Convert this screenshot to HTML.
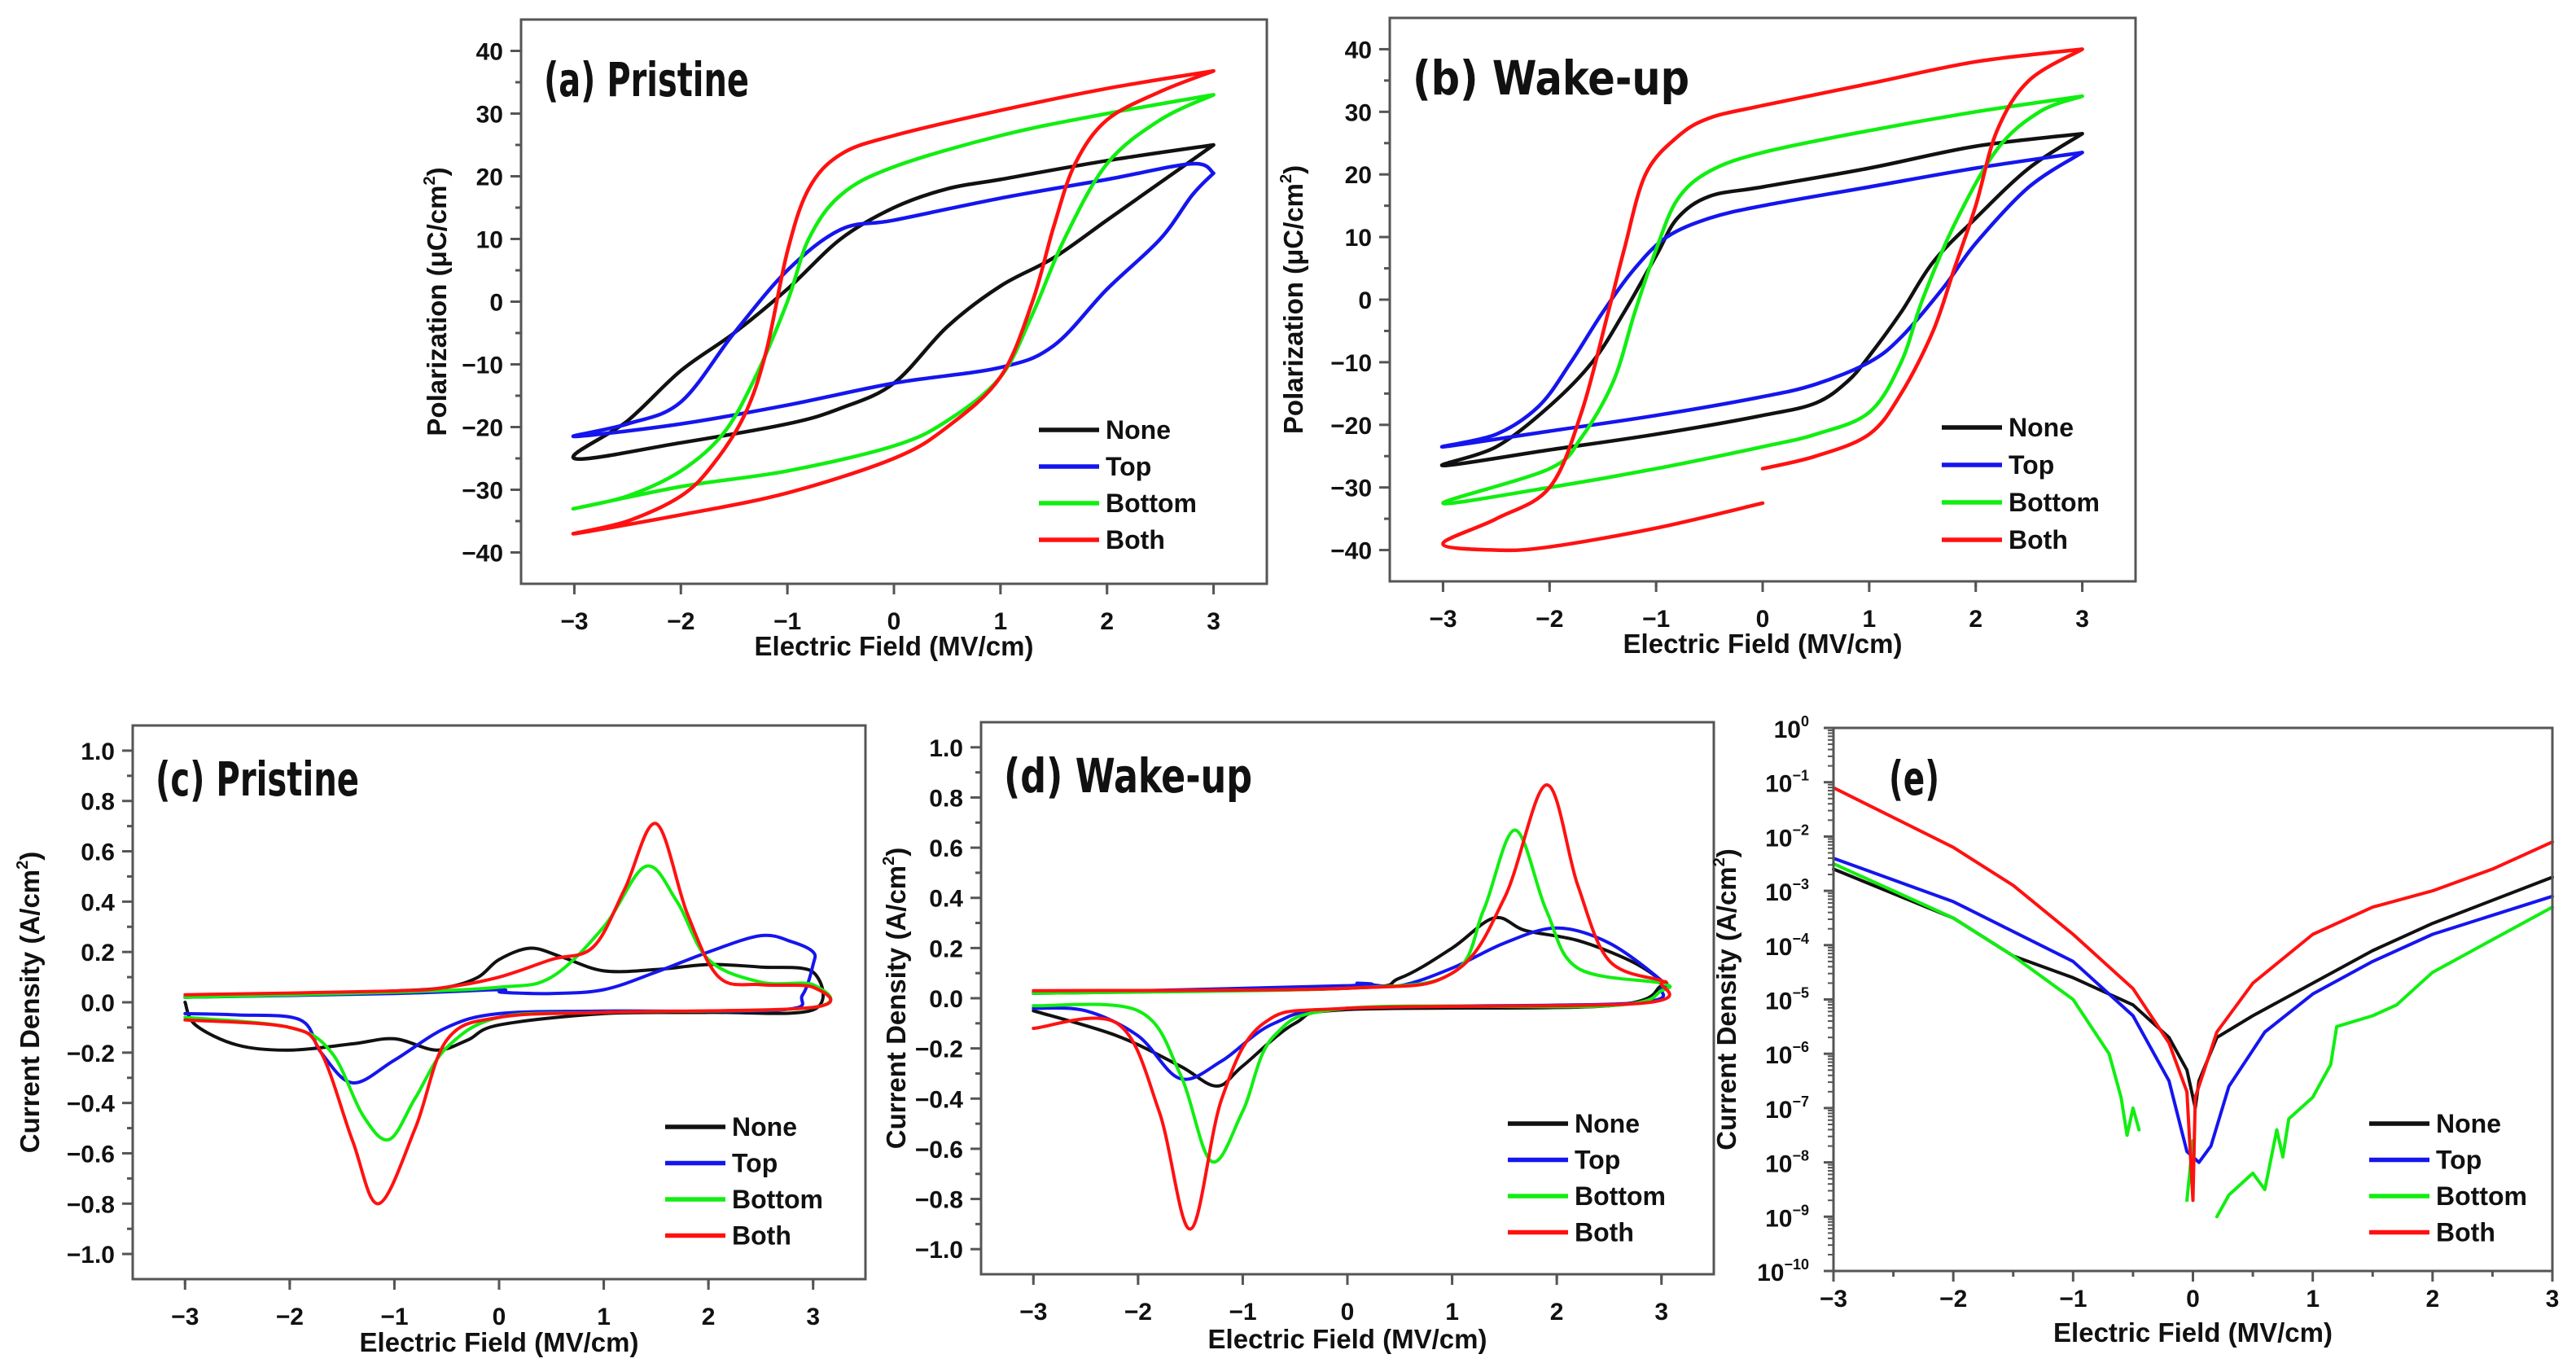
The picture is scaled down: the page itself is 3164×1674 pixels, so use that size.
<!DOCTYPE html>
<html><head><meta charset="utf-8">
<style>
html,body{margin:0;padding:0;background:#fff;}
svg{display:block;}
text{font-family:"Liberation Sans",Arial,sans-serif;font-weight:bold;fill:#111;}
.ttl{font-family:"Liberation Sans Narrow","DejaVu Sans Condensed","Liberation Sans",sans-serif;font-weight:600;}
</style></head>
<body>
<svg id="fig" width="3164" height="1674" viewBox="0 0 3164 1674" xmlns="http://www.w3.org/2000/svg"></svg>
<script>
// ---------- data (panel a: pristine P-E) ----------
const A_NONE_E=[3,2,1,0.5,0,-0.5,-1,-1.5,-2,-2.5,-3,-2,-1,-0.5,0,0.5,1,1.5,2,2.5,3];
const A_NONE_P=[25,22.5,19.5,18,15,10,2,-5,-11,-19,-25,-22.5,-19.5,-17,-13,-4,2.5,7,13,19,25];
const A_TOP_E=[3,2.8,2,1,0,-0.5,-1,-1.5,-2,-2.5,-3,-2,-1,0,1,1.5,2,2.5,2.8,3];
const A_TOP_P=[20.5,22,19.5,16.5,13,11.5,5,-5,-16,-19.5,-21.5,-19.5,-16.5,-13,-10.5,-7,2,10,17,20.5];
const A_BOT_E=[3,2,1,0,-0.5,-0.8,-1,-1.3,-1.6,-2,-2.5,-3,-2,-1,0,0.5,1,1.3,1.6,2,2.5,3];
const A_BOT_P=[33,30,26.5,21.5,17,10,0,-12,-21,-27,-31,-33,-29.5,-27,-23,-19,-12,-2,10,22,29,33];
const A_BOTH_E=[3,2,1,0,-0.5,-0.8,-1,-1.2,-1.4,-1.7,-2,-2.5,-3,-2,-1,0,0.5,1,1.3,1.5,1.7,2,2.5,3];
const A_BOTH_P=[36.8,34,30.5,26.5,23.5,18,8,-8,-18,-26,-31,-35,-37,-34,-30.5,-25,-20,-12,0,12,22,29,33.5,36.8];
// ---------- data (panel b: wake-up P-E) ----------
const B_NONE_E=[3,2,1,0,-0.5,-0.8,-1,-1.3,-1.6,-2,-2.5,-3,-2,-1,0,0.5,0.8,1,1.3,1.6,2,2.5,3];
const B_NONE_P=[26.5,24.5,21,18,16.5,13,7,-2,-10,-17,-23.5,-26.5,-24,-21.5,-18.5,-16.5,-13,-9,-2,6,13,21,26.5];
const B_TOP_E=[3,2,1,0,-0.5,-0.9,-1.2,-1.5,-1.8,-2.1,-2.5,-3,-2,-1,0,0.5,1,1.3,1.7,2,2.5,3];
const B_TOP_P=[23.5,21,18,15,13,10,5,-2,-10,-17,-21.5,-23.5,-21,-18.5,-15.5,-13.5,-10,-6,2,9,18,23.5];
const B_BOT_E=[3,2,1,0,-0.5,-0.8,-1,-1.2,-1.4,-1.7,-2,-3,-2,-1,0,0.5,1,1.3,1.5,1.8,2.2,2.6,3];
const B_BOT_P=[32.5,30,27,23.5,20.5,16,8,-2,-13,-22,-27,-32.5,-30,-27,-23.5,-21.5,-18,-10,0,12,24,30,32.5];
const B_BOTH_E=[3,2,1,0,-0.5,-0.8,-1.1,-1.3,-1.45,-1.7,-2,-2.5,-3,-2.5,-2,-1,0,NaN,0,0.5,1,1.3,1.6,1.8,2,2.2,2.5,3];
const B_BOTH_P=[40,38,34.5,31,29,26,20,8,-2,-18,-30,-35,-39,-40,-39.5,-36.5,-32.5,NaN,-27,-25,-21.5,-15,-5,5,15,27,35,40];
// ---------- data (panel c: pristine J-E) ----------
const C_NONE_E=[-3,-2,-1,-0.5,-0.2,0,0.3,0.6,1,1.5,2,2.5,3,3,2,1,0,-0.3,-0.6,-1,-1.4,-2,-2.5,-2.9,-3];
const C_NONE_J=[0.02,0.035,0.045,0.06,0.1,0.17,0.215,0.18,0.125,0.13,0.15,0.14,0.12,-0.03,-0.04,-0.045,-0.09,-0.15,-0.19,-0.145,-0.165,-0.19,-0.17,-0.09,0.0];
const C_TOP_E=[-3,-1,0,0.02,0.5,1,1.5,2,2.5,2.8,3,3,2.9,2.7,1,0,-0.5,-1,-1.4,-1.7,-1.9,-2.5,-3];
const C_TOP_J=[0.02,0.035,0.05,0.04,0.035,0.05,0.12,0.2,0.265,0.24,0.2,0.15,0.03,-0.03,-0.035,-0.045,-0.1,-0.23,-0.32,-0.2,-0.07,-0.05,-0.045];
const C_BOT_E=[-3,-1,0,0.5,1,1.4,1.7,2,2.5,3,3,1,0,-0.5,-0.8,-1.05,-1.3,-1.6,-2,-3];
const C_BOT_J=[0.02,0.04,0.06,0.1,0.3,0.54,0.4,0.17,0.08,0.07,-0.02,-0.04,-0.06,-0.18,-0.38,-0.545,-0.45,-0.2,-0.1,-0.06];
const C_BOTH_E=[-3,-1,-0.5,0,0.5,0.9,1.2,1.5,1.8,2.1,2.5,3,3,1,0,-0.5,-0.8,-1.15,-1.4,-1.7,-2,-3];
const C_BOTH_J=[0.03,0.045,0.06,0.1,0.17,0.22,0.45,0.71,0.35,0.1,0.07,0.06,-0.02,-0.04,-0.06,-0.15,-0.5,-0.8,-0.55,-0.2,-0.1,-0.07];
// ---------- data (panel d: wake-up J-E) ----------
const D_NONE_E=[-3,0,0.5,1,1.4,1.7,2.2,2.7,3,3,2.5,0,-0.5,-1,-1.25,-1.6,-2.2,-3];
const D_NONE_J=[0.02,0.04,0.08,0.2,0.32,0.27,0.23,0.15,0.07,0.05,-0.03,-0.045,-0.1,-0.27,-0.35,-0.27,-0.15,-0.05];
const D_TOP_E=[-3,0,0.1,0.5,1,1.5,2,2.5,3,3,2.7,0,-0.7,-1.2,-1.6,-2,-2.5,-3];
const D_TOP_J=[0.02,0.05,0.06,0.05,0.12,0.22,0.28,0.22,0.07,0.04,-0.02,-0.04,-0.1,-0.25,-0.32,-0.15,-0.05,-0.04];
const D_BOT_E=[-3,0,1,1.3,1.6,1.9,2.2,3,3,2.5,0,-0.7,-1,-1.3,-1.6,-2,-3];
const D_BOT_J=[0.02,0.04,0.1,0.35,0.67,0.35,0.12,0.06,0.03,-0.03,-0.04,-0.15,-0.45,-0.65,-0.3,-0.05,-0.03];
const D_BOTH_E=[-3,0,1,1.5,1.9,2.2,2.5,3,3,2.8,0,-0.8,-1.2,-1.5,-1.8,-2.2,-3];
const D_BOTH_J=[0.03,0.04,0.1,0.4,0.85,0.45,0.15,0.07,0.06,-0.02,-0.04,-0.1,-0.4,-0.92,-0.45,-0.1,-0.12];
// ---------- data (panel e: leakage, log10 J) ----------
const E_NONE_E=[-3,-2,-1.5,-1,-0.5,-0.2,-0.05,0.02,0.05,0.2,0.5,1,1.5,2,3];
const E_NONE_L=[-2.6,-3.5,-4.2,-4.6,-5.1,-5.7,-6.3,-7,-6.5,-5.7,-5.3,-4.7,-4.1,-3.6,-2.75];
const E_TOP_E=[-3,-2,-1,-0.5,-0.2,-0.05,0.05,0.15,0.3,0.6,1,1.5,2,3];
const E_TOP_L=[-2.4,-3.2,-4.3,-5.3,-6.5,-7.8,-8,-7.7,-6.6,-5.6,-4.9,-4.3,-3.8,-3.1];
const E_BOT_E=[-3,-2.5,-2,-1.5,-1,-0.7,-0.6,-0.55,-0.5,-0.45,NaN,-0.05,0,NaN,0.2,0.3,0.5,0.6,0.7,0.75,0.8,1,1.15,1.2,1.5,1.7,2,2.5,3];
const E_BOT_L=[-2.5,-3,-3.5,-4.2,-5,-6,-6.8,-7.5,-7,-7.4,NaN,-8.7,-7.6,NaN,-9,-8.6,-8.2,-8.5,-7.4,-7.9,-7.2,-6.8,-6.2,-5.5,-5.3,-5.1,-4.5,-3.9,-3.3];
const E_BOTH_E=[-3,-2,-1.5,-1,-0.5,-0.2,-0.05,0,0.02,0.2,0.5,1,1.5,2,2.5,3];
const E_BOTH_L=[-1.1,-2.2,-2.9,-3.8,-4.8,-5.8,-6.7,-8.7,-6.8,-5.6,-4.7,-3.8,-3.3,-3,-2.6,-2.1];
const LEGEND_LABELS=["None","Top","Bottom","Both"];
const COLORS=["#111111","#1515ee","#11ee11","#ff1111"];
const PE_TICKS=[-40,-30,-20,-10,0,10,20,30,40];
const JE_TICKS=[-1.0,-0.8,-0.6,-0.4,-0.2,0.0,0.2,0.4,0.6,0.8,1.0];
const LOG_TICKS=[0,-1,-2,-3,-4,-5,-6,-7,-8,-9,-10];
const X_TICKS=[-3,-2,-1,0,1,2,3];

const NS="http://www.w3.org/2000/svg";
const svg=document.getElementById('fig');
function el(tag,attrs,parent){const e=document.createElementNS(NS,tag);for(const k in attrs)e.setAttribute(k,attrs[k]);(parent||svg).appendChild(e);return e;}
function fmtNum(v,d){const s=Math.abs(v).toFixed(d);return (v<0?"\u2212":"")+s;}

function smoothPath(pts){
  let d="";let seg=[];
  const flush=()=>{
    if(seg.length<2){seg=[];return;}
    d+="M"+seg[0][0].toFixed(1)+","+seg[0][1].toFixed(1);
    for(let i=0;i<seg.length-1;i++){
      const p0=seg[Math.max(0,i-1)],p1=seg[i],p2=seg[i+1],p3=seg[Math.min(seg.length-1,i+2)];
      const c1=[p1[0]+(p2[0]-p0[0])/6,p1[1]+(p2[1]-p0[1])/6];
      const c2=[p2[0]-(p3[0]-p1[0])/6,p2[1]-(p3[1]-p1[1])/6];
      d+="C"+c1[0].toFixed(1)+","+c1[1].toFixed(1)+" "+c2[0].toFixed(1)+","+c2[1].toFixed(1)+" "+p2[0].toFixed(1)+","+p2[1].toFixed(1);
    }
    seg=[];
  };
  pts.forEach(p=>{if(isNaN(p[0])||isNaN(p[1]))flush();else seg.push(p);});
  flush();
  return d;
}

function panel(cfg){
  const g=el('g',{});
  
  
  const L=cfg.L,T=cfg.T,R=cfg.R,B=cfg.B;
  const sx=v=>L+(v-cfg.x0)/(cfg.x1-cfg.x0)*(R-L);
  const sy=v=>B-(v-cfg.y0)/(cfg.y1-cfg.y0)*(B-T);
  cfg.series.forEach((s,i)=>{
    const pts=s.x.map((xv,k)=>[sx(xv),sy(s.y[k])]);
    const p=el('path',{d:cfg.log?pts.reduce((a,p,k)=>a+(isNaN(p[0])?"":((k===0||isNaN(pts[k-1][0]))?"M":"L")+p[0].toFixed(1)+","+p[1].toFixed(1)),""):smoothPath(pts),fill:'none',stroke:COLORS[i],'stroke-width':cfg.sw||4.5,'stroke-linejoin':'round','stroke-linecap':'round'},g);
    
    
  });
  const fr=el('rect',{x:L,y:T,width:R-L,height:B-T,fill:'none',stroke:'#555','stroke-width':3},g);
  
  
  const xlOff=cfg.xlOff||56;
  X_TICKS.forEach(v=>{
    el('line',{x1:sx(v),x2:sx(v),y1:B,y2:B+13,stroke:'#555','stroke-width':3},g);
    const t=el('text',{x:sx(v),y:B+xlOff,'font-size':30,'text-anchor':'middle'},g);
    t.textContent=fmtNum(v,0);
    
    
  });
  for(let v=cfg.x0+0.5;v<cfg.x1;v+=1){el('line',{x1:sx(v),x2:sx(v),y1:B,y2:B+7,stroke:'#555','stroke-width':3},g);}
  if(cfg.log){
    LOG_TICKS.forEach(v=>{
      el('line',{x1:L-12,x2:L,y1:sy(v),y2:sy(v),stroke:'#555','stroke-width':3},g);
      const t=el('text',{x:L-30,y:sy(v)+12,'font-size':30,'text-anchor':'end'},g);
      
      
      const a=el('tspan',{},t);a.textContent="10";
      const b=el('tspan',{dy:-14,'font-size':18},t);b.textContent=v===0?"0":"\u2212"+Math.abs(v);
      if(v>-10){for(let m=2;m<10;m++){const yy=sy(v-1+Math.log10(m));el('line',{x1:L-7,x2:L,y1:yy,y2:yy,stroke:'#555','stroke-width':2},g);}}
    });
  } else {
    cfg.ticks.forEach((v,k)=>{
      el('line',{x1:L-13,x2:L,y1:sy(v),y2:sy(v),stroke:'#555','stroke-width':3},g);
      if(k<cfg.ticks.length-1){const m=(v+cfg.ticks[k+1])/2;el('line',{x1:L-7,x2:L,y1:sy(m),y2:sy(m),stroke:'#555','stroke-width':3},g);}
      const t=el('text',{x:L-22,y:sy(v)+11,'font-size':30,'text-anchor':'end'},g);
      t.textContent=fmtNum(v,cfg.dec);
      
      
    });
  }
  const xt=el('text',{x:(L+R)/2,y:cfg.xtY,'font-size':33,'text-anchor':'middle'},g);
  xt.textContent="Electric Field (MV/cm)";
  
  
  const yt=el('text',{x:0,y:0,'font-size':33,'text-anchor':'middle',transform:`translate(${cfg.ytX},${(T+B)/2}) rotate(-90)`},g);
  
  
  const y1=el('tspan',{},yt);y1.textContent=cfg.ylab;
  const y2=el('tspan',{dy:-14,'font-size':20},yt);y2.textContent="2";
  const y3=el('tspan',{dy:14},yt);y3.textContent=")";
  const pt=el('text',{x:L+cfg.tx,y:T+cfg.ty,'font-size':58,class:'ttl',textLength:cfg.tw,lengthAdjust:'spacingAndGlyphs'},g);
  pt.textContent=cfg.title;
  
  
  LEGEND_LABELS.forEach((lab,i)=>{
    const yy=cfg.legY+i*cfg.legDy;
    const ln=el('line',{x1:cfg.legX,x2:cfg.legX+74,y1:yy,y2:yy,stroke:COLORS[i],'stroke-width':5.5},g);
    
    
    const t=el('text',{x:cfg.legX+82,y:yy+11,'font-size':32},g);
    t.textContent=lab;
    
    
  });
}

panel({name:'panel-a-pristine-pe',L:640,T:24,R:1556,B:717,x0:-3.5,x1:3.5,y0:-45,y1:45,ticks:PE_TICKS,dec:0,
  series:[{x:A_NONE_E,y:A_NONE_P},{x:A_TOP_E,y:A_TOP_P},{x:A_BOT_E,y:A_BOT_P},{x:A_BOTH_E,y:A_BOTH_P}],
  xtY:805,ytX:548,ylab:"Polarization (\u03bcC/cm",title:"(a) Pristine",tw:252,tx:28,ty:94,legX:1276,legY:528,legDy:45});
panel({name:'panel-b-wakeup-pe',L:1707,T:22,R:2623,B:714,x0:-3.5,x1:3.5,y0:-45,y1:45,ticks:PE_TICKS,dec:0,
  series:[{x:B_NONE_E,y:B_NONE_P},{x:B_TOP_E,y:B_TOP_P},{x:B_BOT_E,y:B_BOT_P},{x:B_BOTH_E,y:B_BOTH_P}],
  xtY:802,ytX:1600,ylab:"Polarization (\u03bcC/cm",title:"(b) Wake-up",tw:340,tx:28,ty:94,legX:2385,legY:525,legDy:46});
panel({name:'panel-c-pristine-je',L:163,T:891,R:1063,B:1571,x0:-3.5,x1:3.5,y0:-1.1,y1:1.1,ticks:JE_TICKS,dec:1,
  series:[{x:C_NONE_E,y:C_NONE_J},{x:C_TOP_E,y:C_TOP_J},{x:C_BOT_E,y:C_BOT_J},{x:C_BOTH_E,y:C_BOTH_J}],sw:4,
  xtY:1660,ytX:48,ylab:"Current Density (A/cm",title:"(c) Pristine",tw:250,tx:28,ty:86,legX:817,legY:1384,legDy:44.5});
panel({name:'panel-d-wakeup-je',L:1205,T:887,R:2105,B:1565,x0:-3.5,x1:3.5,y0:-1.1,y1:1.1,ticks:JE_TICKS,dec:1,
  series:[{x:D_NONE_E,y:D_NONE_J},{x:D_TOP_E,y:D_TOP_J},{x:D_BOT_E,y:D_BOT_J},{x:D_BOTH_E,y:D_BOTH_J}],sw:4,
  xtY:1656,ytX:1112,ylab:"Current Density (A/cm",title:"(d) Wake-up",tw:305,tx:28,ty:86,legX:1852,legY:1380,legDy:44.5});
panel({name:'panel-e-leakage',L:2252,T:894,R:3135,B:1561,x0:-3,x1:3,y0:-10,y1:0,log:true,xlOff:44,
  series:[{x:E_NONE_E,y:E_NONE_L},{x:E_TOP_E,y:E_TOP_L},{x:E_BOT_E,y:E_BOT_L},{x:E_BOTH_E,y:E_BOTH_L}],sw:4,
  xtY:1648,ytX:2132,ylab:"Current Density (A/cm",title:"(e)",tw:62,tx:68,ty:82,legX:2910,legY:1380,legDy:44.5});
</script>
</body></html>
